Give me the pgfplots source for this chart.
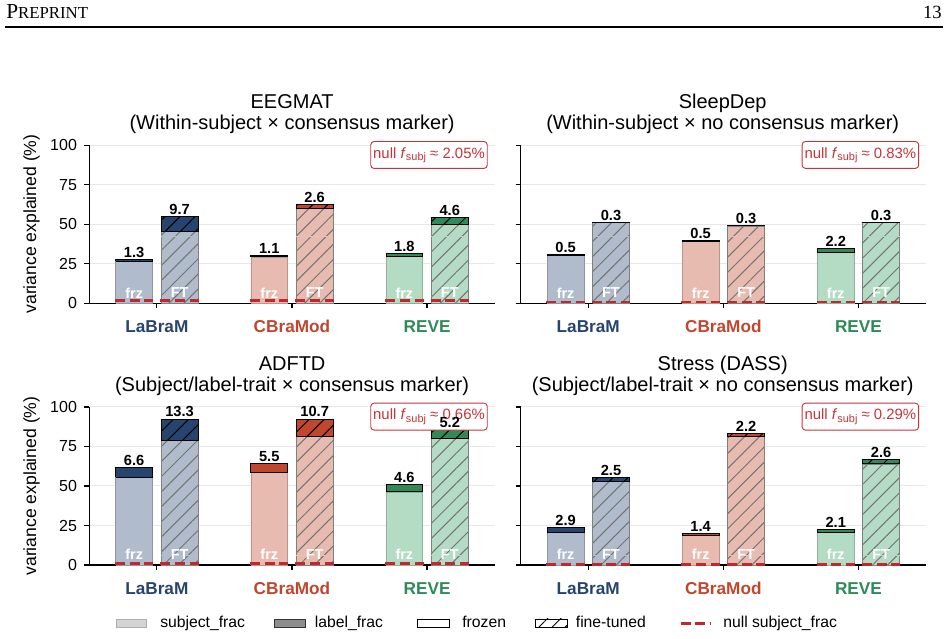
\documentclass[border=0pt]{standalone}
\usepackage{fontspec}
\setmainfont{Liberation Sans}
\newfontfamily\hdrfont{Liberation Serif}
\usepackage{pgfplots}
\pgfplotsset{compat=1.18}
\usetikzlibrary{patterns.meta}

\definecolor{Ldark}{HTML}{27446E}
\definecolor{Llight}{HTML}{B0BCCB}
\definecolor{Cdark}{HTML}{C0472E}
\definecolor{Clight}{HTML}{E8BBB0}
\definecolor{Rdark}{HTML}{2E8B57}
\definecolor{Rlight}{HTML}{B4DBC3}
\definecolor{nullred}{HTML}{C0282D}
\definecolor{boxred}{HTML}{C8343A}

\newcommand{\px}[2]{({(#1)*0.75pt},{(638-(#2))*0.75pt})}

% frozen bar: x0, x1, subject, total, model prefix
\newcommand{\frzbar}[5]{%
 \addplot[fill=#5light, draw=#5light!80!black, line width=.5pt] coordinates {(#1,0) (#2,0) (#2,#3) (#1,#3) (#1,0)};
 \addplot[fill=#5dark, draw=black, line width=.6pt] coordinates {(#1,#3) (#2,#3) (#2,#4) (#1,#4) (#1,#3)};
}
% fine-tuned bar: x0, x1, subject, total, model prefix, thin line height
\newcommand{\ftbar}[6]{%
 \addplot[fill=#5light, draw=black!50, line width=.5pt, postaction={pattern={Lines[angle=45,distance=8pt,line width=.75pt]}, pattern color=black!55}] coordinates {(#1,0) (#2,0) (#2,#3) (#1,#3) (#1,0)};
 \addplot[#5dark!35, line width=.3pt] coordinates {(#1,#6) (#2,#6)};
 \addplot[fill=#5dark, draw=black, line width=.6pt, postaction={pattern={Lines[angle=45,distance=8pt,line width=.75pt]}, pattern color=black}] coordinates {(#1,#3) (#2,#3) (#2,#4) (#1,#4) (#1,#3)};
}
\newcommand{\frzft}{%
 \addplot[draw=none, nodes near coords, point meta=explicit symbolic,
   nodes near coords style={text=white, font=\bfseries\fontsize{10.8}{12}\selectfont, anchor=center, inner sep=0pt}]
   coordinates {(-0.168,6.5)[frz] (0.168,6.5)[FT] (0.832,6.5)[frz] (1.168,6.5)[FT] (1.832,6.5)[frz] (2.168,6.5)[FT]};
}
\newcommand{\nulls}[1]{%
 \addplot[nullred, line width=2.2pt, dash pattern=on 7.5pt off 3.5pt] coordinates {(-0.31,#1) (-0.026,#1)};
 \addplot[nullred, line width=2.2pt, dash pattern=on 7.5pt off 3.5pt] coordinates {(0.026,#1) (0.31,#1)};
 \addplot[nullred, line width=2.2pt, dash pattern=on 7.5pt off 3.5pt] coordinates {(0.69,#1) (0.974,#1)};
 \addplot[nullred, line width=2.2pt, dash pattern=on 7.5pt off 3.5pt] coordinates {(1.026,#1) (1.31,#1)};
 \addplot[nullred, line width=2.2pt, dash pattern=on 7.5pt off 3.5pt] coordinates {(1.69,#1) (1.974,#1)};
 \addplot[nullred, line width=2.2pt, dash pattern=on 7.5pt off 3.5pt] coordinates {(2.026,#1) (2.31,#1)};
}
\newcommand{\nullbox}[1]{%
 \node[draw=boxred, fill=white, text=boxred, rounded corners=2.5pt, line width=.7pt,
   inner xsep=1.8pt, inner ysep=4.3pt, anchor=north east, font=\fontsize{11.2}{13}\selectfont]
   at (rel axis cs:0.983,1.027) {null \textit{f}\raisebox{-0.3ex}{\fontsize{8.2}{9}\selectfont subj} ≈ #1\%};
}

\pgfplotsset{
 panel/.style={
  scale only axis, width=304pt, height=118.5pt,
  xmin=-0.5, xmax=2.5, ymin=0, ymax=100,
  axis lines=left, axis line style={-, line width=0.9pt},
  xtick={0,1,2}, ytick={0,25,50,75,100},
  xticklabels={\textcolor{Ldark}{LaBraM},\textcolor{Cdark}{CBraMod},\textcolor{Rdark}{REVE}},
  xticklabel style={font=\bfseries\fontsize{12.9}{15}\selectfont, anchor=base, yshift=-18.5pt},
  yticklabels={0,25,50,75,100},
  yticklabel style={font=\fontsize{12}{14}\selectfont, xshift=-2pt},
  tick align=outside, major tick length=3.75pt, tick style={line width=0.9pt, black},
  ymajorgrids, grid style={line width=0.75pt, black!9},
  anchor=south west, clip=false,
  nodes near coords style={font=\bfseries\fontsize{11}{12}\selectfont, anchor=south, inner sep=1.2pt, text=black},
 },
 noylab/.style={yticklabels={}},
}

\begin{document}
\begin{tikzpicture}
\useasboundingbox (0,0) rectangle (711pt,478.5pt);
% header
\node[anchor=base west, inner sep=0pt] at \px{6}{19} {\hdrfont\fontsize{16}{18}\selectfont P\fontsize{12.6}{14}\selectfont REPRINT};
\node[anchor=base east, inner sep=0pt] at \px{942}{19} {\hdrfont\fontsize{14}{16}\selectfont 13};
\draw[line width=0.8pt] \px{5}{27} -- \px{943}{27};

% titles
\begin{scope}[every node/.style={font=\fontsize{15}{17}\selectfont, anchor=base, inner sep=0pt}]
\node at \px{292.1}{108.6} {EEGMAT};
\node at \px{292.1}{129.5} {(Within-subject × consensus marker)};
\node at \px{722.7}{108.6} {SleepDep};
\node at \px{722.7}{129.5} {(Within-subject × no consensus marker)};
\node at \px{292.1}{370.3} {ADFTD};
\node at \px{292.1}{391.2} {(Subject/label-trait × consensus marker)};
\node at \px{722.7}{370.3} {Stress (DASS)};
\node at \px{722.7}{391.2} {(Subject/label-trait × no consensus marker)};
\end{scope}
\node[rotate=90, font=\fontsize{13.2}{15}\selectfont] at \px{31.5}{224} {variance explained (\%)};
\node[rotate=90, font=\fontsize{13.2}{15}\selectfont] at \px{31.5}{486} {variance explained (\%)};

% ---------- EEGMAT ----------
\begin{axis}[panel, at={(66.975pt,251.025pt)}]
\frzbar{-0.304}{-0.032}{26.7}{28.0}{L}
\ftbar{0.032}{0.304}{45.4}{55.1}{L}{42.3}
\frzbar{0.696}{0.968}{29.4}{30.5}{C}
\ftbar{1.032}{1.304}{60.1}{62.7}{C}{42.3}
\frzbar{1.696}{1.968}{29.8}{31.6}{R}
\ftbar{2.032}{2.304}{49.7}{54.3}{R}{42.3}
\addplot[draw=none, nodes near coords, point meta=explicit symbolic] coordinates {
 (-0.168,28.0)[1.3] (0.168,55.1)[9.7] (0.832,30.5)[1.1] (1.168,62.7)[2.6] (1.832,31.6)[1.8] (2.168,54.3)[4.6]};
\frzft
\nulls{2.05}
\nullbox{2.05}
\end{axis}

% ---------- SleepDep ----------
\begin{axis}[panel, noylab, at={(390.525pt,251.025pt)}]
\frzbar{-0.304}{-0.032}{30.4}{30.9}{L}
\ftbar{0.032}{0.304}{51.1}{51.4}{L}{42.3}
\frzbar{0.696}{0.968}{39.1}{39.6}{C}
\ftbar{1.032}{1.304}{49.0}{49.3}{C}{42.3}
\frzbar{1.696}{1.968}{32.5}{34.7}{R}
\ftbar{2.032}{2.304}{51.1}{51.4}{R}{42.3}
\addplot[draw=none, nodes near coords, point meta=explicit symbolic] coordinates {
 (-0.168,30.9)[0.5] (0.168,51.4)[0.3] (0.832,39.6)[0.5] (1.168,49.3)[0.3] (1.832,34.7)[2.2] (2.168,51.4)[0.3]};
\frzft
\nulls{0.83}
\nullbox{0.83}
\end{axis}

% ---------- ADFTD ----------
\begin{axis}[panel, at={(66.975pt,54.75pt)}]
\frzbar{-0.304}{-0.032}{55.4}{62.0}{L}
\ftbar{0.032}{0.304}{79.1}{92.4}{L}{6.1}
\frzbar{0.696}{0.968}{58.5}{64.0}{C}
\ftbar{1.032}{1.304}{81.7}{92.4}{C}{6.1}
\frzbar{1.696}{1.968}{46.3}{50.9}{R}
\ftbar{2.032}{2.304}{80.4}{85.6}{R}{6.1}
\addplot[draw=none, nodes near coords, point meta=explicit symbolic] coordinates {
 (-0.168,62.0)[6.6] (0.168,92.4)[13.3] (0.832,64.0)[5.5] (1.168,92.4)[10.7] (1.832,50.9)[4.6] (2.168,85.6)[5.2]};
\frzft
\nulls{0.66}
\nullbox{0.66}
\end{axis}

% ---------- Stress ----------
\begin{axis}[panel, noylab, at={(390.525pt,54.75pt)}]
\frzbar{-0.304}{-0.032}{20.6}{23.5}{L}
\ftbar{0.032}{0.304}{52.7}{55.2}{L}{6.1}
\frzbar{0.696}{0.968}{18.5}{19.9}{C}
\ftbar{1.032}{1.304}{81.3}{83.5}{C}{6.1}
\frzbar{1.696}{1.968}{20.5}{22.6}{R}
\ftbar{2.032}{2.304}{64.0}{66.6}{R}{6.1}
\addplot[draw=none, nodes near coords, point meta=explicit symbolic] coordinates {
 (-0.168,23.5)[2.9] (0.168,55.2)[2.5] (0.832,19.9)[1.4] (1.168,83.5)[2.2] (1.832,22.6)[2.1] (2.168,66.6)[2.6]};
\frzft
\nulls{0.29}
\nullbox{0.29}
\end{axis}

% legend
\begin{scope}[every node/.style={font=\fontsize{11.8}{13}\selectfont, anchor=base west, inner sep=0pt}]
\draw[fill=black!17, draw=black!32, line width=.6pt] \px{116}{619} rectangle \px{146.7}{627.3};
\node at \px{160}{627.5} {subject\_frac};
\draw[fill=black!45, draw=black!80, line width=.6pt] \px{274.5}{619} rectangle \px{305.5}{627.3};
\node at \px{314.6}{627.5} {label\_frac};
\draw[fill=white, draw=black, line width=.6pt] \px{417}{619} rectangle \px{449}{627.3};
\node at \px{462}{627.5} {frozen};
\draw[fill=white, draw=black, line width=.6pt, postaction={pattern={Lines[angle=45,distance=7pt,line width=.7pt]}, pattern color=black}] \px{535.6}{619} rectangle \px{567}{627.3};
\node at \px{575.6}{627.5} {fine-tuned};
\draw[nullred, line width=2.2pt, dash pattern=on 7.5pt off 3.5pt] \px{680.5}{623.2} -- \px{710}{623.2};
\node at \px{723}{627.5} {null subject\_frac};
\end{scope}
\end{tikzpicture}
\end{document}
